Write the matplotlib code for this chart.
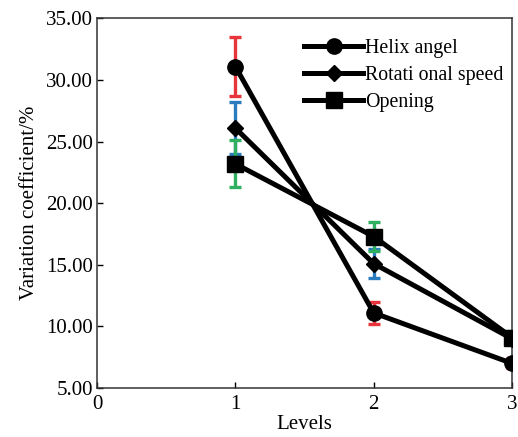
import matplotlib
matplotlib.use('Agg')
import matplotlib.pyplot as plt

levels = [1, 2, 3]
helix = [31.1, 11.1, 7.0]
helix_err = [2.4, 0.9, 0.4]
rotation = [26.1, 15.1, 9.0]
rotation_err = [2.1, 1.2, 0.4]
opening = [23.2, 17.3, 9.1]
opening_err = [1.9, 1.2, 0.5]

plt.rcParams['font.family'] = ['Liberation Serif', 'DejaVu Serif']

fig = plt.figure(figsize=(5.18, 4.37), dpi=100)
ax = fig.add_axes([0.1873, 0.1121, 0.8011, 0.8456])

series = [
    (helix, helix_err, '#e8353b', 'o', 'Helix angel', 11),
    (rotation, rotation_err, '#2b7bbf', 'D', 'Rotati onal speed', 8),
    (opening, opening_err, '#2fb060', 's', 'Opening', 11),
]

for vals, errs, ecol, mk, lab, ms in series:
    ax.errorbar(levels, vals, yerr=errs, fmt='none', ecolor=ecol,
                elinewidth=2.4, capsize=4.5, capthick=2.4, zorder=2)
for vals, errs, ecol, mk, lab, ms in series:
    ax.plot(levels, vals, color='black', lw=3.6, marker=mk, ms=ms,
            label=lab, zorder=3)

fs = 15
ax.set_xlim(0, 3)
ax.set_ylim(5, 35)
ax.set_xticks([0, 1, 2, 3])
ax.set_yticks([5, 10, 15, 20, 25, 30, 35])
ax.set_yticklabels([f'{v:.2f}' for v in [5, 10, 15, 20, 25, 30, 35]])
ax.tick_params(direction='in', labelsize=fs, length=4, width=1, pad=3)
ax.tick_params(axis='x', pad=5)
ax.set_xlabel('Levels', fontsize=fs, labelpad=1)
ax.set_ylabel('Variation coefficient/%', fontsize=fs, labelpad=5)
for sp in ax.spines.values():
    sp.set_linewidth(1.1)
    sp.set_color('#333333')

ax.legend(loc='upper left', bbox_to_anchor=(0.49, 0.955), frameon=False,
          fontsize=14.3, handlelength=2.95, handletextpad=0.1,
          labelspacing=0.4, borderaxespad=0.0, borderpad=0.2)

plt.savefig('out.png', dpi=100)
